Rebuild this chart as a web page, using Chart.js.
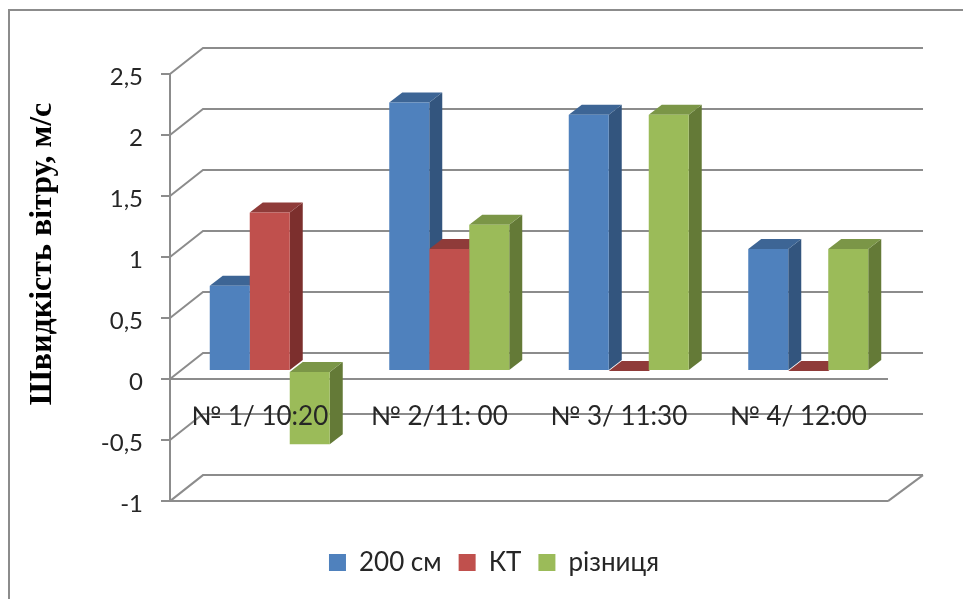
<!DOCTYPE html>
<html lang="uk">

<head>
    <meta charset="UTF-8">
    <title>Швидкість вітру</title>
    <style>
        body { margin: 0; background: #fff; }
        canvas { display: block; }
    </style>
</head>

<body>
    <canvas id="windChart" width="963" height="599"></canvas>

    <script src="https://cdn.jsdelivr.net/npm/chart.js"></script>
    <script>
        const categories = ['№ 1/ 10:20', '№ 2/11: 00', '№ 3/ 11:30', '№ 4/ 12:00'];
        const seriesNames = ['200 см', 'КТ', 'різниця'];
        const values200 = [0.7, 2.2, 2.1, 1];
        const valuesKt = [1.3, 1, 0, 0];
        const valuesDiff = [-0.6, 1.2, 2.1, 1];
        const axisTitle = 'Швидкість вітру, м/с';

        const frontColors = ['#4f81bd', '#c0504d', '#9bbb59'];
        const topColors = ['#3d6595', '#8f3b39', '#7b9647'];
        const sideColors = ['#33557e', '#7c2f2d', '#647a37'];
        const gridColor = '#8c8c8c';
        const textColor = '#262626';

        // the box the bars stand in, in pixels
        const wallDx = 33, wallDy = 26;
        const barDx = 10, barDy = 8;
        const depthDx = 13, depthDy = 10;

        function poly(ctx, color, pts) {
            ctx.fillStyle = color;
            ctx.beginPath();
            pts.forEach((p, i) => i ? ctx.lineTo(p[0], p[1]) : ctx.moveTo(p[0], p[1]));
            ctx.closePath();
            ctx.fill();
        }

        const box3d = {
            id: 'box3d',
            beforeDraw(chart) {
                const ctx = chart.ctx;
                // frame of the pasted picture, only left and top show
                ctx.save();
                ctx.strokeStyle = gridColor;
                ctx.lineWidth = 2;
                ctx.beginPath();
                ctx.moveTo(9, 599);
                ctx.lineTo(9, 10);
                ctx.lineTo(963, 10);
                ctx.stroke();

                ctx.translate(43, 254);
                ctx.rotate(-Math.PI / 2);
                ctx.fillStyle = '#000';
                ctx.font = 'bold 32px "Liberation Serif"';
                ctx.textAlign = 'center';
                ctx.textBaseline = 'middle';
                ctx.fillText(axisTitle, 0, 0);
                ctx.restore();
            },
            beforeDatasetsDraw(chart) {
                const ctx = chart.ctx;
                const area = chart.chartArea;
                const y = chart.scales.y;

                ctx.save();
                ctx.strokeStyle = gridColor;
                ctx.lineWidth = 2;
                y.ticks.forEach(t => {
                    const py = y.getPixelForValue(t.value);
                    ctx.beginPath();
                    ctx.moveTo(area.left, py);
                    ctx.lineTo(area.left + wallDx, py - wallDy);
                    ctx.lineTo(area.right + wallDx + 2, py - wallDy);
                    ctx.stroke();
                });
                ctx.beginPath();
                ctx.moveTo(area.right, area.bottom);
                ctx.lineTo(area.right + wallDx + 2, area.bottom - wallDy);
                ctx.stroke();
                ctx.restore();

                // bars stand halfway into the box, stays on until afterDatasetsDraw
                ctx.save();
                ctx.translate(barDx, -barDy);
                chart.data.datasets.forEach((ds, i) => {
                    chart.getDatasetMeta(i).data.forEach(bar => {
                        const l = bar.x - bar.width / 2;
                        const r = bar.x + bar.width / 2;
                        const top = Math.min(bar.y, bar.base);
                        const bottom = Math.max(bar.y, bar.base);
                        poly(ctx, sideColors[i], [[r, top], [r + depthDx, top - depthDy], [r + depthDx, bottom - depthDy], [r, bottom]]);
                        poly(ctx, topColors[i], [[l, top], [l + depthDx, top - depthDy], [r + depthDx, top - depthDy], [r, top]]);
                    });
                });
            },
            afterDatasetsDraw(chart) {
                chart.ctx.restore();
            }
        };

        const seriesValues = [values200, valuesKt, valuesDiff];

        new Chart(document.getElementById('windChart'), {
            type: 'bar',
            data: {
                labels: categories,
                datasets: seriesNames.map((name, i) => ({
                    label: name,
                    data: seriesValues[i],
                    backgroundColor: frontColors[i],
                    borderWidth: 0,
                    barPercentage: 1,
                    categoryPercentage: 0.6685
                }))
            },
            options: {
                responsive: false,
                animation: false,
                layout: { padding: { top: 74, right: 75, bottom: 13.5, left: 100 } },
                scales: {
                    x: {
                        position: { y: 0 },
                        grid: { display: false },
                        border: { display: false },
                        ticks: {
                            z: 1,
                            color: textColor,
                            padding: 14,
                            autoSkip: false,
                            maxRotation: 0,
                            font: { family: 'Lato', size: 26 }
                        }
                    },
                    y: {
                        min: -1,
                        max: 2.5,
                        afterFit(scale) { scale.width = 70; },
                        border: { color: gridColor, width: 2 },
                        grid: {
                            lineWidth: 2,
                            tickLength: 9,
                            tickColor: gridColor,
                            color: c => (c.tick.value === 0 || c.tick.value === -1) ? gridColor : 'transparent'
                        },
                        ticks: {
                            stepSize: 0.5,
                            color: textColor,
                            padding: 18,
                            labelOffset: 3,
                            font: { family: 'Lato', size: 24 },
                            callback: v => String(v).replace('.', ',')
                        }
                    }
                },
                plugins: {
                    tooltip: { enabled: false },
                    legend: {
                        position: 'bottom',
                        // empty title only pushes the legend down from the plot
                        title: { display: true, text: '', padding: { top: 17, bottom: 0 } },
                        labels: {
                            color: textColor,
                            boxWidth: 17,
                            boxHeight: 17,
                            padding: 17,
                            font: { family: 'Lato', size: 26 }
                        }
                    }
                }
            },
            plugins: [box3d]
        });
    </script>
</body>

</html>
